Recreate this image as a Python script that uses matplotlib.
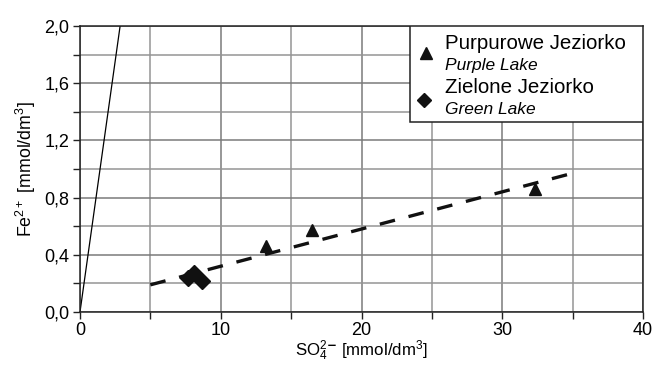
import matplotlib
matplotlib.use("Agg")
import matplotlib.pyplot as plt
from matplotlib.patches import Rectangle

plt.rcParams["font.family"] = ["Liberation Sans", "DejaVu Sans"]
plt.rcParams["mathtext.fontset"] = "custom"
plt.rcParams["mathtext.rm"] = "Liberation Sans"
plt.rcParams["mathtext.it"] = "Liberation Sans:italic"

# data
purple_so4 = [13.2, 16.5, 32.3]
purple_fe = [0.46, 0.57, 0.86]
green_so4 = [7.7, 8.1, 8.7]
green_fe = [0.24, 0.27, 0.22]
fit_so4 = [5.0, 34.6]
fit_fe = [0.19, 0.96]
ref_so4 = [0.0, 2.85]
ref_fe = [0.0, 2.0]

x_major = [0, 10, 20, 30, 40]
x_minor = [5, 15, 25, 35]
y_major = [0.0, 0.4, 0.8, 1.2, 1.6, 2.0]
y_minor = [0.2, 0.6, 1.0, 1.4, 1.8]
y_labels = ["0,0", "0,4", "0,8", "1,2", "1,6", "2,0"]

fig = plt.figure(figsize=(6.53, 3.65), dpi=100)
ax = fig.add_axes([0.1225, 0.1452, 0.8622, 0.7836])

ax.set_xlim(0, 40)
ax.set_ylim(0, 2.0)
ax.set_xticks(x_major)
ax.set_xticks(x_minor, minor=True)
ax.set_yticks(y_major)
ax.set_yticks(y_minor, minor=True)
ax.set_yticklabels(y_labels)
ax.grid(True, which="major", color="#7a7a7a", lw=1.1)
ax.grid(True, which="minor", color="#959595", lw=1.1)
ax.set_axisbelow(True)
ax.tick_params(which="both", direction="out", length=5, width=1, color="#222222",
               labelsize=13, pad=2.5)
for s in ax.spines.values():
    s.set_color("#222222")
    s.set_linewidth(1.1)

ax.plot(ref_so4, ref_fe, "-", color="black", lw=0.9)
ax.plot(fit_so4, fit_fe, color="#111111", lw=2.4, dashes=(4.7, 4.2))
ax.plot(purple_so4, purple_fe, "^", color="#111111", ms=9, ls="none")
ax.plot(green_so4, green_fe, "D", color="#111111", ms=8.5, ls="none")

ax.set_xlabel(r"SO$_4^{2\mathbf{-}}$ [mmol/dm$^3$]", fontsize=12.2, labelpad=-0.5)
ax.set_ylabel(r"Fe$^{2+}$ [mmol/dm$^3$]", fontsize=12.8, labelpad=5)

# legend box drawn by hand (two-line labels, second line italic)
ax.add_patch(Rectangle((0.586, 0.664), 0.414, 0.336, transform=ax.transAxes,
                       facecolor="white", edgecolor="#222222", lw=1.1, zorder=5))
ax.plot([0.614], [0.907], "^", color="#111111", ms=8.5, transform=ax.transAxes,
        zorder=6, clip_on=False)
ax.plot([0.611], [0.741], "D", color="#111111", ms=7.5, transform=ax.transAxes,
        zorder=6, clip_on=False)
tx = 0.648
ax.text(tx, 0.94, "Purpurowe Jeziorko", transform=ax.transAxes, fontsize=14.8,
        va="center", ha="left", zorder=6)
ax.text(tx, 0.862, "Purple Lake", transform=ax.transAxes, fontsize=12.5,
        style="italic", va="center", ha="left", zorder=6)
ax.text(tx, 0.785, "Zielone Jeziorko", transform=ax.transAxes, fontsize=14.8,
        va="center", ha="left", zorder=6)
ax.text(tx, 0.708, "Green Lake", transform=ax.transAxes, fontsize=12.5,
        style="italic", va="center", ha="left", zorder=6)

fig.savefig("out.png", dpi=100)
